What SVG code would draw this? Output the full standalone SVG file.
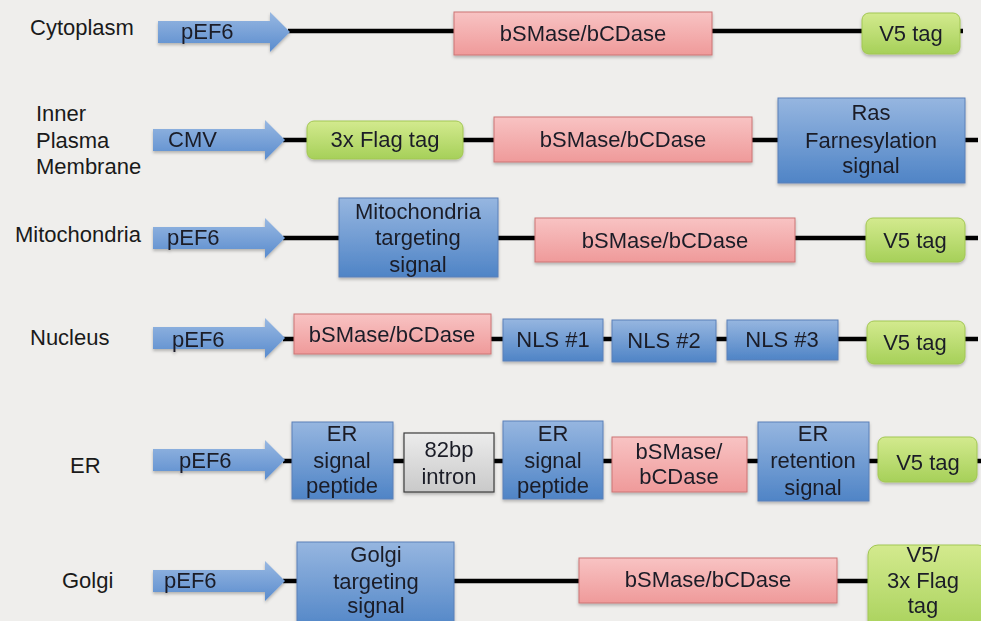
<svg xmlns="http://www.w3.org/2000/svg" width="981" height="621" viewBox="0 0 981 621">
<style>
text{font-family:"Liberation Sans",Arial,sans-serif;font-size:22px;fill:#1a1d28}
.lbl{fill:#1a1a1a}
.c{text-anchor:middle}
.blue{fill:url(#gBlue);stroke:#5b80b8;stroke-width:1}
.pink{fill:url(#gPink);stroke:#cc7474;stroke-width:1}
.green{fill:url(#gGreen);stroke:#a2c752;stroke-width:1}
.gray{fill:url(#gGray);stroke:#3c3c3c;stroke-width:1.2}
.arrow{fill:url(#gArrow)}
.ln{stroke:#000;stroke-width:4.5;fill:none}
.sh{filter:url(#shadow)}
</style>
<defs>
<linearGradient id="gBlue" x1="0" y1="0" x2="0" y2="1"><stop offset="0" stop-color="#96b6e0"/><stop offset="1" stop-color="#4f84c6"/></linearGradient>
<linearGradient id="gArrow" x1="0" y1="0" x2="0" y2="1"><stop offset="0" stop-color="#98b8e2"/><stop offset="1" stop-color="#5a8cce"/></linearGradient>
<linearGradient id="gPink" x1="0" y1="0" x2="0" y2="1"><stop offset="0" stop-color="#f8c3c3"/><stop offset="1" stop-color="#ef9a9a"/></linearGradient>
<linearGradient id="gGreen" x1="0" y1="0" x2="0" y2="1"><stop offset="0" stop-color="#d3ea8e"/><stop offset="1" stop-color="#a6d059"/></linearGradient>
<linearGradient id="gGray" x1="0" y1="0" x2="0" y2="1"><stop offset="0" stop-color="#ececec"/><stop offset="1" stop-color="#c9c9c9"/></linearGradient>
<filter id="shadow" x="-10%" y="-10%" width="120%" height="130%"><feDropShadow dx="0" dy="2" stdDeviation="1.5" flood-color="#000" flood-opacity="0.25"/></filter>
<path id="arr" d="M0,-11 H112 V-20 L132,0 L112,20 V11 H0 Z"/>
</defs>
<rect width="981" height="621" fill="#efeeec"/>

<g id="connectors">
<line class="ln" x1="288" y1="31" x2="963" y2="31"/>
<line class="ln" x1="283" y1="140" x2="978" y2="140"/>
<line class="ln" x1="283" y1="238" x2="978" y2="238"/>
<line class="ln" x1="283" y1="339" x2="978" y2="339"/>
<line class="ln" x1="283" y1="461" x2="981" y2="461"/>
<line class="ln" x1="283" y1="581" x2="870" y2="581"/>
</g>

<!-- Row 1: Cytoplasm -->
<g id="label-cytoplasm"><text class="lbl" x="30" y="35">Cytoplasm</text></g>
<g id="r1-promoter" class="sh"><use href="#arr" class="arrow" transform="translate(158,32)"/><text x="181" y="39">pEF6</text></g>
<g id="r1-enzyme" class="sh"><rect class="pink" x="454" y="12" width="258" height="43"/><text class="c" x="583" y="41">bSMase/bCDase</text></g>
<g id="r1-v5" class="sh"><rect class="green" x="862" y="13" width="98" height="41" rx="7"/><text class="c" x="911" y="41">V5 tag</text></g>

<!-- Row 2: Inner Plasma Membrane -->
<g id="label-ipm"><text class="lbl" x="36" y="121">Inner</text><text class="lbl" x="36" y="148">Plasma</text><text class="lbl" x="36" y="174">Membrane</text></g>
<g id="r2-promoter" class="sh"><use href="#arr" class="arrow" transform="translate(153,140)"/><text x="168" y="147">CMV</text></g>
<g id="r2-flag" class="sh"><rect class="green" x="307" y="121" width="156" height="38" rx="7"/><text class="c" x="385" y="147">3x Flag tag</text></g>
<g id="r2-enzyme" class="sh"><rect class="pink" x="494" y="117" width="258" height="45"/><text class="c" x="623" y="147">bSMase/bCDase</text></g>
<g id="r2-ras" class="sh"><rect class="blue" x="778" y="98" width="187" height="85"/><text class="c" x="871" y="120">Ras</text><text class="c" x="871" y="148">Farnesylation</text><text class="c" x="871" y="173">signal</text></g>

<!-- Row 3: Mitochondria -->
<g id="label-mito"><text class="lbl" x="15" y="242">Mitochondria</text></g>
<g id="r3-promoter" class="sh"><use href="#arr" class="arrow" transform="translate(153,238)"/><text x="167" y="245">pEF6</text></g>
<g id="r3-mts" class="sh"><rect class="blue" x="339" y="198" width="159" height="79"/><text class="c" x="418" y="219">Mitochondria</text><text class="c" x="418" y="245">targeting</text><text class="c" x="418" y="272">signal</text></g>
<g id="r3-enzyme" class="sh"><rect class="pink" x="535" y="218" width="260" height="44"/><text class="c" x="665" y="248">bSMase/bCDase</text></g>
<g id="r3-v5" class="sh"><rect class="green" x="866" y="218" width="99" height="44" rx="7"/><text class="c" x="915" y="248">V5 tag</text></g>

<!-- Row 4: Nucleus -->
<g id="label-nucleus"><text class="lbl" x="30" y="345">Nucleus</text></g>
<g id="r4-promoter" class="sh"><use href="#arr" class="arrow" transform="translate(153,338)"/><text x="172" y="347">pEF6</text></g>
<g id="r4-enzyme" class="sh"><rect class="pink" x="294" y="314" width="197" height="40"/><text class="c" x="392" y="342">bSMase/bCDase</text></g>
<g id="r4-nls1" class="sh"><rect class="blue" x="503" y="319" width="100" height="42"/><text class="c" x="553" y="347">NLS #1</text></g>
<g id="r4-nls2" class="sh"><rect class="blue" x="612" y="320" width="104" height="42"/><text class="c" x="664" y="348">NLS #2</text></g>
<g id="r4-nls3" class="sh"><rect class="blue" x="727" y="320" width="111" height="40"/><text class="c" x="782" y="347">NLS #3</text></g>
<g id="r4-v5" class="sh"><rect class="green" x="867" y="321" width="98" height="43" rx="7"/><text class="c" x="915" y="350">V5 tag</text></g>

<!-- Row 5: ER -->
<g id="label-er"><text class="lbl" x="70" y="473">ER</text></g>
<g id="r5-promoter" class="sh"><use href="#arr" class="arrow" transform="translate(153,460)"/><text x="179" y="468">pEF6</text></g>
<g id="r5-sp1" class="sh"><rect class="blue" x="292" y="422" width="101" height="77"/><text class="c" x="342" y="441">ER</text><text class="c" x="342" y="468">signal</text><text class="c" x="342" y="493">peptide</text></g>
<g id="r5-intron" class="sh"><rect class="gray" x="404" y="433" width="90" height="59"/><text class="c" x="449" y="457">82bp</text><text class="c" x="449" y="484">intron</text></g>
<g id="r5-sp2" class="sh"><rect class="blue" x="503" y="421" width="100" height="78"/><text class="c" x="553" y="441">ER</text><text class="c" x="553" y="468">signal</text><text class="c" x="553" y="493">peptide</text></g>
<g id="r5-enzyme" class="sh"><rect class="pink" x="612" y="437" width="135" height="55"/><text class="c" x="679" y="459">bSMase/</text><text class="c" x="679" y="484">bCDase</text></g>
<g id="r5-ret" class="sh"><rect class="blue" x="758" y="422" width="111" height="79"/><text class="c" x="813" y="441">ER</text><text class="c" x="813" y="468">retention</text><text class="c" x="813" y="495">signal</text></g>
<g id="r5-v5" class="sh"><rect class="green" x="878" y="437" width="99" height="45" rx="7"/><text class="c" x="928" y="470">V5 tag</text></g>

<!-- Row 6: Golgi -->
<g id="label-golgi"><text class="lbl" x="62" y="588">Golgi</text></g>
<g id="r6-promoter" class="sh"><use href="#arr" class="arrow" transform="translate(153,581)"/><text x="164" y="588">pEF6</text></g>
<g id="r6-gts" class="sh"><rect class="blue" x="297" y="542" width="157" height="90"/><text class="c" x="376" y="562">Golgi</text><text class="c" x="376" y="589">targeting</text><text class="c" x="376" y="613">signal</text></g>
<g id="r6-enzyme" class="sh"><rect class="pink" x="579" y="558" width="258" height="45"/><text class="c" x="708" y="587">bSMase/bCDase</text></g>
<g id="r6-tag" class="sh"><rect class="green" x="868" y="545" width="120" height="90" rx="10"/><text class="c" x="923" y="562">V5/</text><text class="c" x="923" y="588">3x Flag</text><text class="c" x="923" y="613">tag</text></g>
</svg>
